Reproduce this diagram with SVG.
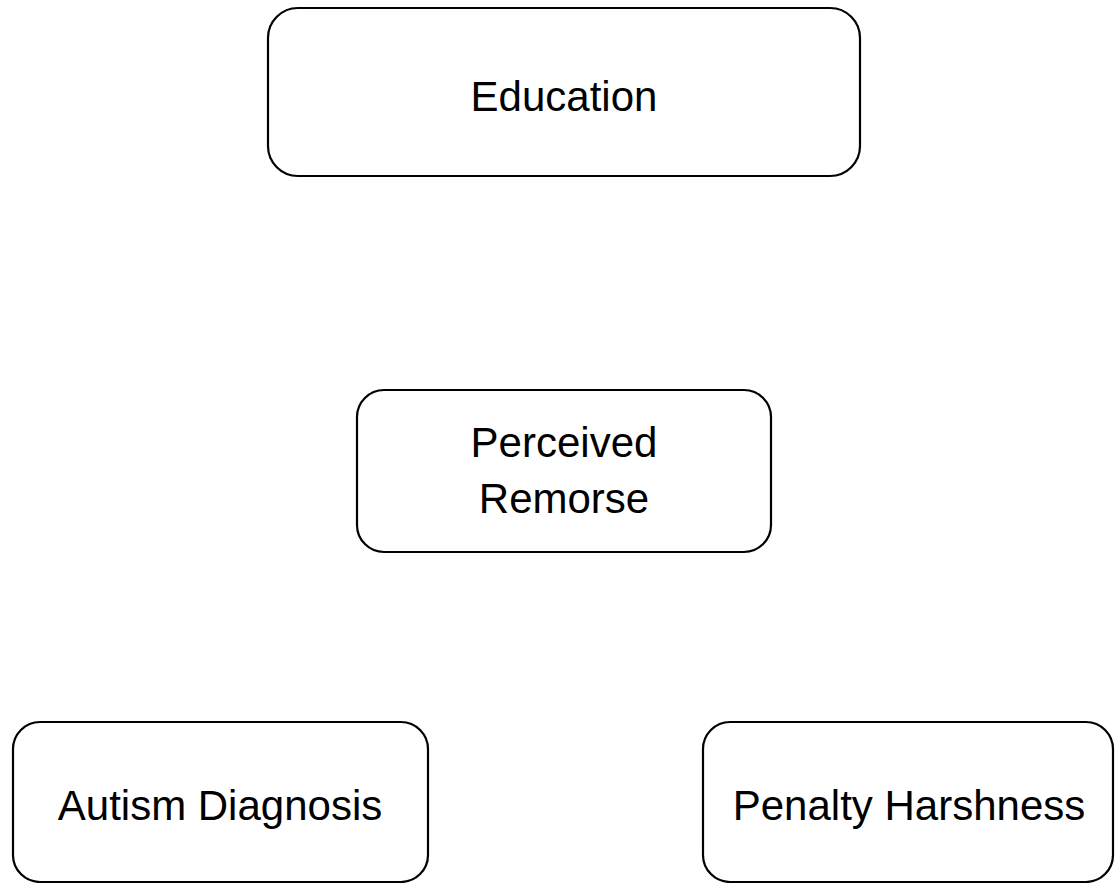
<svg xmlns="http://www.w3.org/2000/svg" width="1117" height="883" viewBox="0 0 1117 883">
<style>
.box{fill:#fff;stroke:#000;stroke-width:2.2}
.t{font-family:"Liberation Sans",Arial,sans-serif;font-size:42px;fill:#000;text-anchor:middle}
</style>
<rect width="1117" height="883" fill="#fff"/>
<g id="connectors"></g>
<g id="education">
<rect class="box" x="268" y="8" width="592" height="168" rx="30" ry="30"/>
<text class="t" x="564" y="111">Education</text>
</g>
<g id="perceived-remorse">
<rect class="box" x="357" y="390" width="414" height="162" rx="27" ry="27"/>
<text class="t" x="564" y="457">Perceived</text>
<text class="t" x="564" y="513">Remorse</text>
</g>
<g id="autism-diagnosis">
<rect class="box" x="13" y="722" width="415" height="160" rx="27" ry="27"/>
<text class="t" x="220" y="820">Autism Diagnosis</text>
</g>
<g id="penalty-harshness">
<rect class="box" x="703" y="722" width="410" height="160" rx="27" ry="27"/>
<text class="t" x="909" y="820">Penalty Harshness</text>
</g>
</svg>
